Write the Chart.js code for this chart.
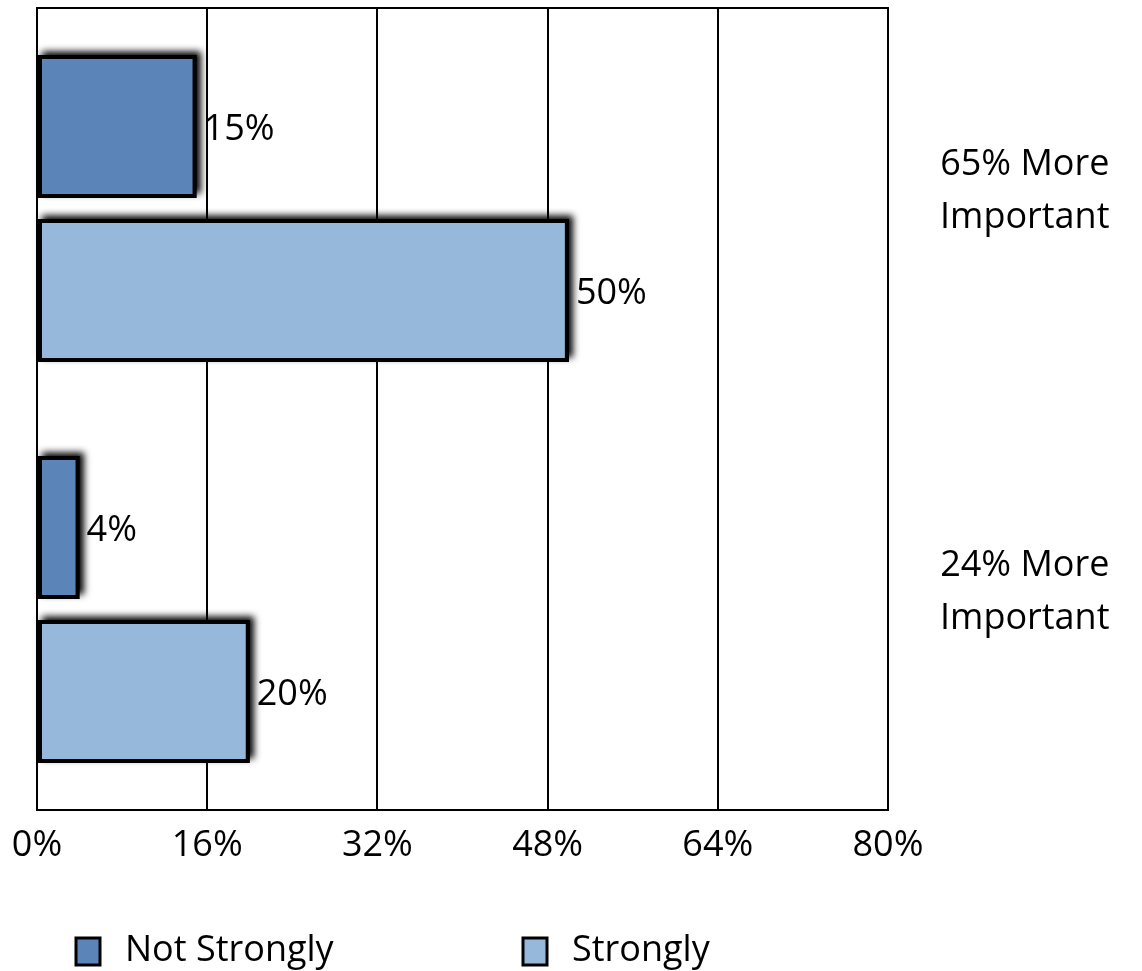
<!DOCTYPE html>
<html>
<head>
<meta charset="utf-8">
<script src="https://cdn.jsdelivr.net/npm/chart.js@4.4.0/dist/chart.umd.min.js"></script>
<style>
  body { margin: 0; background: #fff; }
</style>
</head>
<body>
<canvas id="myChart" width="1142" height="971"></canvas>
<script>
// Importance groups and the two answer strengths
var groups = [['65% More', 'Important'], ['24% More', 'Important']];
var seriesNames = ['Not Strongly', 'Strongly'];
var notStrongly = [15, 4];
var strongly = [50, 20];
var xTicks = [0, 16, 32, 48, 64, 80];

var FONT = "'Open Sans', 'Noto Sans', sans-serif";

// soft black shadow behind every bar (bar elements clip their own shadow)
var barShadow = {
  id: 'barShadow',
  beforeDatasetDraw: function (chart, args) {
    var ctx = chart.ctx;
    var meta = args.meta;
    ctx.save();
    ctx.shadowColor = '#000';
    ctx.shadowBlur = 7;
    ctx.shadowOffsetX = 4;
    ctx.shadowOffsetY = -4;
    ctx.fillStyle = '#000';
    meta.data.forEach(function (bar) {
      var p = bar.getProps(['x', 'y', 'base', 'height'], true);
      ctx.fillRect(p.base, p.y - p.height / 2, p.x - p.base, p.height);
    });
    ctx.restore();
  }
};

// value labels at the end of each bar
var valueLabels = {
  id: 'valueLabels',
  afterDatasetsDraw: function (chart) {
    var ctx = chart.ctx;
    ctx.save();
    ctx.font = '36px ' + FONT;
    ctx.fillStyle = '#000';
    ctx.textAlign = 'left';
    ctx.textBaseline = 'middle';
    chart.data.datasets.forEach(function (ds, i) {
      chart.getDatasetMeta(i).data.forEach(function (bar, j) {
        ctx.fillText(ds.data[j] + '%', bar.x + 7, bar.y + 3);
      });
    });
    ctx.restore();
  }
};

// frame around the plot area
var frame = {
  id: 'frame',
  afterDraw: function (chart) {
    var a = chart.chartArea;
    var ctx = chart.ctx;
    ctx.save();
    ctx.strokeStyle = '#000';
    ctx.lineWidth = 2;
    ctx.strokeRect(a.left, a.top, a.right - a.left, a.bottom - a.top);
    ctx.restore();
  }
};

// legend row under the axis
var bottomLegend = {
  id: 'bottomLegend',
  afterDraw: function (chart) {
    var ctx = chart.ctx;
    var spots = [[76, 125], [523, 572]];
    ctx.save();
    ctx.font = '36px ' + FONT;
    ctx.textBaseline = 'middle';
    chart.data.datasets.forEach(function (ds, i) {
      var bx = spots[i][0], tx = spots[i][1];
      ctx.fillStyle = ds.backgroundColor;
      ctx.fillRect(bx, 938, 24, 27);
      ctx.strokeStyle = '#000';
      ctx.lineWidth = 3;
      ctx.strokeRect(bx, 938, 24, 27);
      ctx.fillStyle = '#000';
      ctx.fillText(ds.label, tx, 951);
    });
    ctx.restore();
  }
};

var ctx = document.getElementById('myChart').getContext('2d');
var myChart = new Chart(ctx, {
  type: 'bar',
  data: {
    labels: groups,
    datasets: [{
      label: seriesNames[0],
      data: notStrongly,
      backgroundColor: '#5b84b8',
      borderColor: '#000',
      borderWidth: 4,
      borderSkipped: false
    }, {
      label: seriesNames[1],
      data: strongly,
      backgroundColor: '#95b8db',
      borderColor: '#000',
      borderWidth: 4,
      borderSkipped: false
    }]
  },
  options: {
    indexAxis: 'y',
    responsive: false,
    animation: false,
    categoryPercentage: 0.818,
    barPercentage: 0.872,
    layout: { padding: { left: 37, top: 8 } },
    plugins: {
      legend: { display: false },
      tooltip: { enabled: false }
    },
    scales: {
      x: {
        min: 0,
        max: 80,
        afterBuildTicks: function (scale) {
          scale.ticks = xTicks.map(function (v) { return { value: v }; });
        },
        afterFit: function (scale) {
          scale.height = 161;
          scale.paddingLeft = 0;
          scale.paddingRight = 0;
        },
        grid: { color: '#000', lineWidth: 2, drawTicks: false },
        border: { color: '#000', width: 2 },
        ticks: {
          padding: 14,
          color: '#000',
          font: { family: FONT, size: 36 },
          callback: function (v) { return v + '%'; }
        }
      },
      y: {
        position: 'right',
        afterFit: function (scale) {
          scale.width = 254;
          scale.paddingTop = 0;
          scale.paddingBottom = 0;
        },
        grid: { display: false, drawTicks: false },
        border: { color: '#000', width: 2 },
        ticks: {
          crossAlign: 'center',
          padding: 52,
          labelOffset: -17,
          color: '#000',
          font: { family: FONT, size: 36, lineHeight: 1.47 }
        }
      }
    }
  },
  plugins: [barShadow, valueLabels, frame, bottomLegend]
});
</script>
</body>
</html>
